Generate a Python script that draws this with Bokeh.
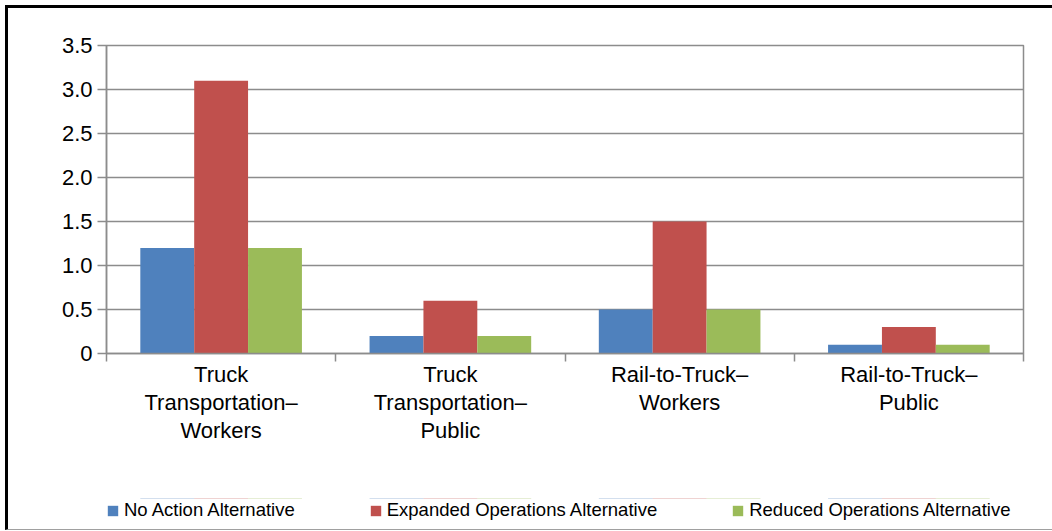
from bokeh.plotting import figure
from bokeh.layouts import column
from bokeh.models import (ColumnDataSource, FixedTicker, Legend, LegendItem,
                          NumeralTickFormatter, Range1d, LinearAxis)
from bokeh.embed import file_html
from bokeh.resources import INLINE

categories = ["Truck\nTransportation\u2013\nWorkers",
              "Truck\nTransportation\u2013\nPublic",
              "Rail-to-Truck\u2013\nWorkers",
              "Rail-to-Truck\u2013\nPublic"]
series_names = ["No Action Alternative",
                "Expanded Operations Alternative",
                "Reduced Operations Alternative"]
no_action = [1.2, 0.2, 0.5, 0.1]
expanded = [3.1, 0.6, 1.5, 0.3]
reduced = [1.2, 0.2, 0.5, 0.1]
y_ticks = [0, 0.5, 1.0, 1.5, 2.0, 2.5, 3.0, 3.5]

colors = ["#4F81BD", "#C0504D", "#9BBB59"]
FONT = "Liberation Sans"
GRAY = "#8C8C8C"
bar_w = 0.235

p = figure(width=1044, height=490, output_backend="svg", toolbar_location=None,
           x_range=Range1d(0, len(categories)), y_range=Range1d(0, 3.5),
           min_border_left=98, min_border_top=37, min_border_right=29,
           min_border_bottom=145)

p.outline_line_color = GRAY
p.outline_line_width = 1.5

centers = [i + 0.5 for i in range(len(categories))]
sources = []
for k, (vals, col) in enumerate(zip([no_action, expanded, reduced], colors)):
    xs = [c + (k - 1) * bar_w for c in centers]
    src = ColumnDataSource(dict(x=xs, top=vals))
    sources.append(src)
    p.vbar(x="x", top="top", width=bar_w, bottom=0, source=src,
           fill_color=col, line_color=None)

# split the category labels into lines; each line gets its own axis row
lines = [lab.split("\n") for lab in categories]
n_lines = max(len(l) for l in lines)
rows = [[l[i] if i < len(l) else "" for l in lines] for i in range(n_lines)]


def style_label_axis(ax, row, standoff):
    ax.ticker = FixedTicker(ticks=centers, minor_ticks=[])
    ax.major_label_overrides = {c: t for c, t in zip(centers, row)}
    ax.major_tick_out = 0
    ax.major_tick_in = 0
    ax.major_label_standoff = standoff
    ax.major_label_text_font = FONT
    ax.major_label_text_font_size = "22px"
    ax.major_label_text_color = "black"
    ax.major_label_orientation = "horizontal"


# main x axis: tick marks at category boundaries plus the first label line
xa = p.xaxis[0]
style_label_axis(xa, rows[0], 0)
xa.ticker = FixedTicker(ticks=centers, minor_ticks=list(range(len(categories) + 1)))
xa.minor_tick_out = 8
xa.minor_tick_in = 0
xa.minor_tick_line_color = GRAY
xa.minor_tick_line_width = 1.5
xa.axis_line_color = GRAY
xa.axis_line_width = 1.5

for row in rows[1:]:
    ax = LinearAxis()
    style_label_axis(ax, row, 0)
    ax.axis_line_color = None
    ax.minor_tick_line_color = None
    p.add_layout(ax, "below")

p.yaxis.ticker = FixedTicker(ticks=y_ticks, minor_ticks=[])
p.yaxis.formatter = NumeralTickFormatter(format="0.0")
p.yaxis.major_label_overrides = {0: "0"}
p.yaxis.major_tick_out = 9
p.yaxis.major_tick_in = 0
p.yaxis.major_tick_line_color = GRAY
p.yaxis.major_tick_line_width = 1.5
p.yaxis.axis_line_color = GRAY
p.yaxis.axis_line_width = 1.5
p.yaxis.major_label_text_font = FONT
p.yaxis.major_label_text_font_size = "22px"
p.yaxis.major_label_text_color = "black"
p.yaxis.major_label_standoff = 5

p.xgrid.grid_line_color = None
p.ygrid.ticker = FixedTicker(ticks=y_ticks)
p.ygrid.grid_line_color = GRAY
p.ygrid.grid_line_width = 1.5

# legend strip below the chart (its own small figure; the series renderers
# there have zero height and lie outside its y range, so only the legend shows)
leg_fig = figure(width=1044, height=31, output_backend="svg", toolbar_location=None,
                 x_range=Range1d(0, len(categories)), y_range=Range1d(-2, -1),
                 x_axis_type=None, y_axis_type=None, min_border=0)
leg_fig.outline_line_color = None
leg_renderers = [leg_fig.vbar(x="x", top="top", bottom="top", width=bar_w, source=src,
                              fill_color=c, line_color=None)
                 for src, c in zip(sources, colors)]
legend = Legend(items=[LegendItem(label=n, renderers=[r])
                       for n, r in zip(series_names, leg_renderers)],
                orientation="horizontal", location=(0, 8),
                padding=0, margin=0, spacing=74, label_standoff=5,
                glyph_width=13, glyph_height=13,
                label_text_font=FONT, label_text_font_size="18.5px",
                label_text_color="black",
                border_line_color=None, background_fill_alpha=0)
leg_fig.add_layout(legend, "center")

layout = column(p, leg_fig, spacing=0)
layout.styles = {"margin-left": "5px", "margin-top": "5px",
                 "border-left": "3px solid black", "border-top": "3px solid black",
                 "border-bottom": "1px solid #A0A0A0"}

open("out.html", "w").write(file_html(layout, INLINE))
